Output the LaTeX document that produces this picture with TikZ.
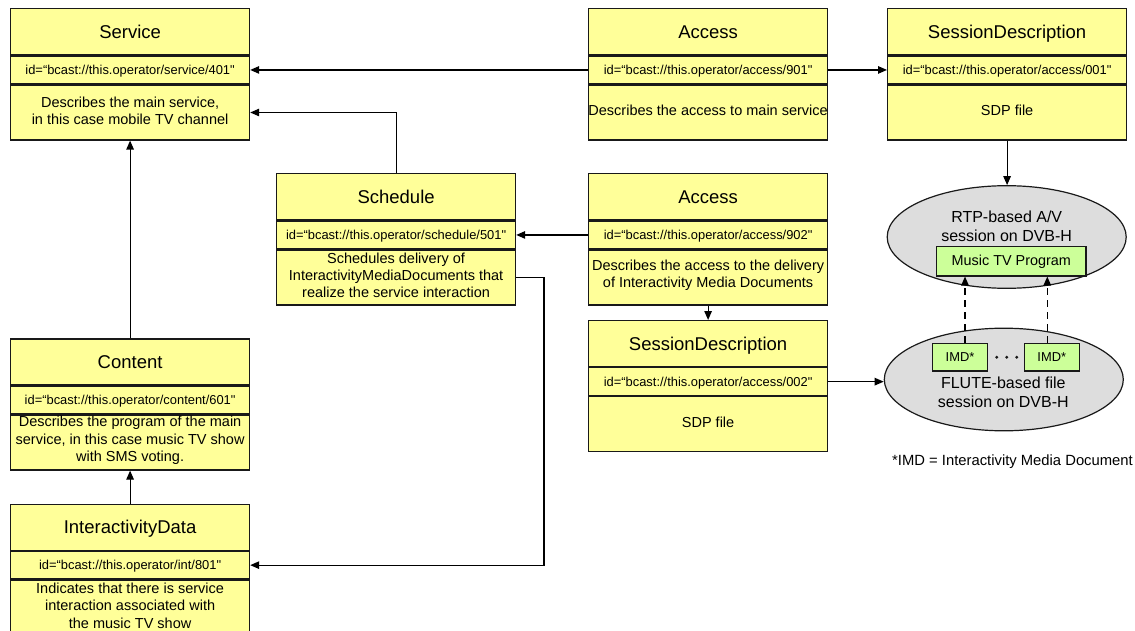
\documentclass[tikz,border=0pt]{standalone}
\usepackage{fontspec}
\setmainfont{Liberation Sans}[Ligatures=TeXOff]
\usetikzlibrary{arrows.meta,shapes.geometric,calc}

\definecolor{boxyellow}{RGB}{255,255,153}
\definecolor{boxgreen}{RGB}{204,255,153}
\definecolor{sessiongray}{RGB}{221,221,221}

% Three-part fragment box: title, id row, description
\newcommand\umlbox[6]{%
  \node[titlepart, anchor=north west] (#1-t) at (#2,#3) {#4};
  \node[idpart, anchor=north] (#1-id) at (#1-t.south) {#5};
  \node[descpart, anchor=north] (#1-d) at (#1-id.south) {};
  \node[desctext] (#1-dtext) at ([yshift=2pt]#1-d.center) {#6};
}

\begin{document}
\begin{tikzpicture}[x=1pt,y=-1pt,
  part/.style={draw=black!90, fill=boxyellow, line width=1.2pt,
    minimum width=239pt, inner sep=0pt, align=center},
  titlepart/.style={part, minimum height=46pt, text height=13.25pt, text depth=0pt,
    font=\fontsize{18.5}{22}\selectfont},
  idpart/.style={part, minimum height=27.7pt, text height=9.2pt, text depth=0pt,
    font=\fontsize{12.9}{15}\selectfont},
  descpart/.style={part, minimum height=55pt},
  desctext/.style={inner sep=0pt, align=center, font=\fontsize{14.5}{17.3}\selectfont},
  session/.style={ellipse, draw=black!90, fill=sessiongray, line width=1.2pt,
    minimum width=239pt, minimum height=102.6pt, inner sep=0pt},
  sessionlabel/.style={align=center, font=\fontsize{16}{19}\selectfont},
  greenbox/.style={draw=black!90, fill=boxgreen, line width=1.2pt, inner sep=0pt},
  link/.style={line width=1.2pt, -{Triangle[length=9pt,width=7.5pt]}},
  dashedlink/.style={link, dash pattern=on 7pt off 5pt}
]
\useasboundingbox (0,0) rectangle (1135,631);

% fragment boxes
\umlbox{svc}{10}{8.3}{Service}{id=“bcast://this.operator/service/401"}
  {Describes the main service,\\in this case mobile TV channel}
\umlbox{a1}{588}{8.3}{Access}{id=“bcast://this.operator/access/901"}
  {Describes the access to main service}
\umlbox{sd1}{887}{8.3}{SessionDescription}{id=“bcast://this.operator/access/001"}
  {SDP file}
\umlbox{sch}{276}{173.3}{Schedule}{id=“bcast://this.operator/schedule/501"}
  {Schedules delivery of\\InteractivityMediaDocuments that\\realize the service interaction}
\umlbox{a2}{588}{173.3}{Access}{id=“bcast://this.operator/access/902"}
  {Describes the access to the delivery\\of Interactivity Media Documents}
\umlbox{sd2}{588}{320}{SessionDescription}{id=“bcast://this.operator/access/002"}
  {SDP file}
\umlbox{cnt}{10}{338.3}{Content}{id=“bcast://this.operator/content/601"}
  {Describes the program of the main\\service, in this case music TV show\\with SMS voting.}
\umlbox{int}{10}{503.5}{InteractivityData}{id=“bcast://this.operator/int/801"}
  {Indicates that there is service\\interaction associated with\\the music TV show}

% broadcast sessions
\node[session] (rtp) at (1006.7,237) {};
\node[sessionlabel] (rtp-label) at (1006.7,226.5) {RTP-based A/V\\session on DVB-H};
\node[greenbox, minimum width=149.3pt, minimum height=29.3pt,
  font=\fontsize{14.4}{17}\selectfont] (mtv) at (1011.3,261.3) {Music TV Program};

\node[session] (flute) at (1003.8,379.5) {};
\node[greenbox, minimum width=55.4pt, minimum height=27.7pt,
  font=\fontsize{12.9}{15}\selectfont] (imd1) at (960,357.2) {IMD*};
\node[greenbox, minimum width=55pt, minimum height=27.7pt,
  font=\fontsize{12.9}{15}\selectfont] (imd2) at (1051.8,357.2) {IMD*};
\node[sessionlabel] (flute-label) at (1003.3,392) {FLUTE-based file\\session on DVB-H};
\foreach \dx in {-10,0,10}
  \fill[black!90] (1006.7+\dx,357.3) circle (1.6pt);

\node[font=\fontsize{14.8}{17}\selectfont] (note) at (1012.5,461.7)
  {*IMD = Interactivity Media Document};

% references between fragments
\draw[link] (a1-id.west) -- (svc-id.east);
\draw[link] (a1-id.east) -- (sd1-id.west);
\draw[link] (sd1-d.south) -- (sd1-d.south |- rtp.north);
\draw[link] (sch-t.north) |- (svc-d.east);
\draw[link] (a2-id.west) -- (sch-id.east);
\draw[link] (a2-d.south) -- (sd2-t.north);
\draw[link] (sd2-id.east) -- (sd2-id.east -| flute.west);
\coordinate (route) at (544,0);
\draw[link] (sch-d.east) -- (sch-d.east -| route) |- (int-id.east);
\draw[link] (cnt-t.north) -- (svc-d.south);
\draw[link] (int-t.north) -- (cnt-d.south);

% media documents carried into the A/V program
\coordinate (d1) at ([xshift=5pt]imd1.north);
\coordinate (d2) at ([xshift=-4.5pt]imd2.north);
\draw[dashedlink] (d1) -- (d1 |- mtv.south);
\draw[dashedlink] (d2) -- (d2 |- mtv.south);
\end{tikzpicture}
\end{document}
